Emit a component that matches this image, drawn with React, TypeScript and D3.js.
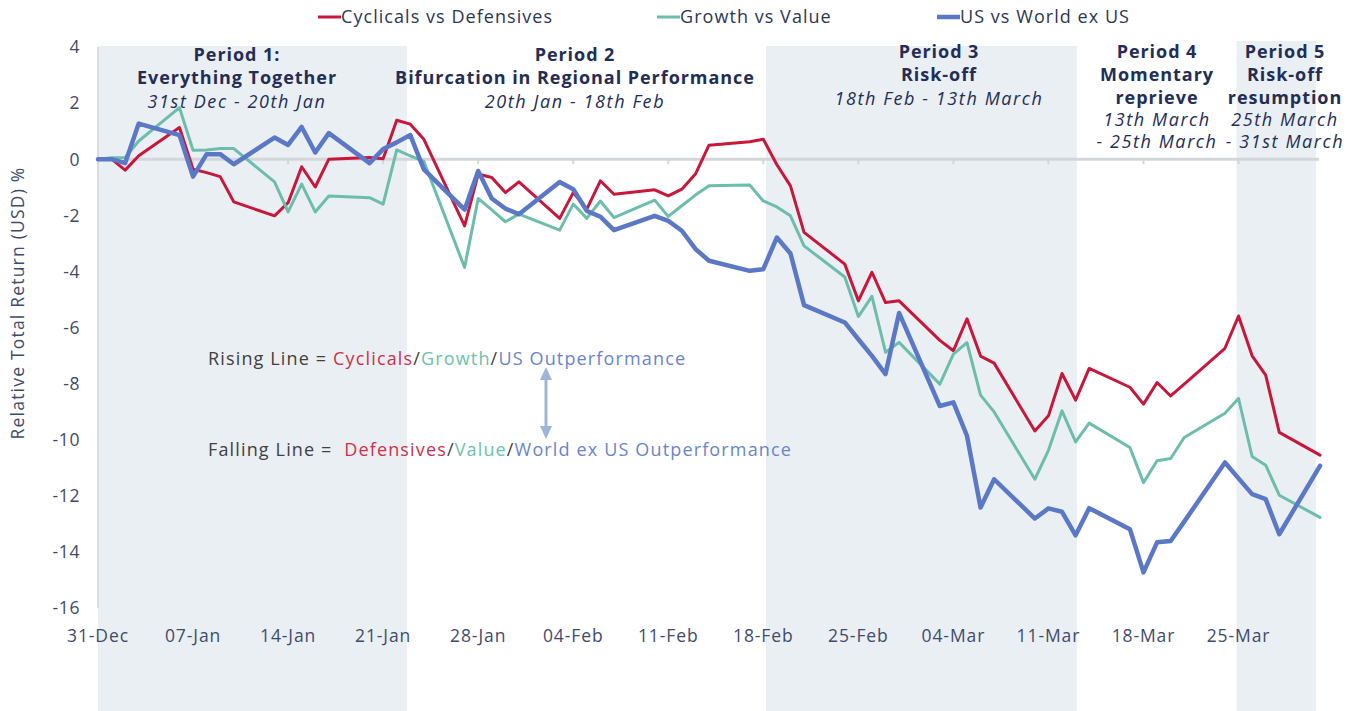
import React from "react";
import * as d3 from "d3";

const dates = [
  "2019-12-31","2020-01-01","2020-01-02","2020-01-03",
  "2020-01-06","2020-01-07","2020-01-08","2020-01-09","2020-01-10",
  "2020-01-13","2020-01-14","2020-01-15","2020-01-16","2020-01-17",
  "2020-01-20","2020-01-21","2020-01-22","2020-01-23","2020-01-24",
  "2020-01-27","2020-01-28","2020-01-29","2020-01-30","2020-01-31",
  "2020-02-03","2020-02-04","2020-02-05","2020-02-06","2020-02-07",
  "2020-02-10","2020-02-11","2020-02-12","2020-02-13","2020-02-14",
  "2020-02-17","2020-02-18","2020-02-19","2020-02-20","2020-02-21",
  "2020-02-24","2020-02-25","2020-02-26","2020-02-27","2020-02-28",
  "2020-03-02","2020-03-03","2020-03-04","2020-03-05","2020-03-06",
  "2020-03-09","2020-03-10","2020-03-11","2020-03-12","2020-03-13",
  "2020-03-16","2020-03-17","2020-03-18","2020-03-19","2020-03-20",
  "2020-03-23","2020-03-24","2020-03-25","2020-03-26","2020-03-27",
  "2020-03-30",
];

const cyclicalsVsDefensives = [
  0, 0, -0.39, 0.12,
  1.13, -0.36, -0.48, -0.62, -1.52,
  -2.02, -1.55, -0.27, -0.99, 0.0,
  0.06, 0.02, 1.39, 1.25, 0.71,
  -2.38, -0.53, -0.65, -1.19, -0.81,
  -2.11, -1.19, -1.78, -0.77, -1.25,
  -1.09, -1.31, -1.07, -0.53, 0.5,
  0.62, 0.71, -0.2, -0.95, -2.61,
  -3.74, -5.05, -4.03, -5.11, -5.05,
  -6.46, -6.83, -5.69, -7.02, -7.27,
  -9.69, -9.15, -7.64, -8.59, -7.46,
  -8.13, -8.73, -7.96, -8.44, -8.02,
  -6.74, -5.59, -7.01, -7.7, -9.74,
  -10.55,
];

const growthVsValue = [
  0, 0.05, 0.06, 0.65,
  1.84, 0.32, 0.33, 0.38, 0.38,
  -0.81, -1.88, -0.89, -1.88, -1.31,
  -1.37, -1.6, 0.33, 0.12, -0.08,
  -3.86, -1.4, -1.81, -2.23, -1.96,
  -2.53, -1.6, -2.11, -1.49, -2.08,
  -1.46, -2.04, -1.66, -1.28, -0.95,
  -0.92, -1.49, -1.7, -2.02, -3.09,
  -4.2, -5.61, -4.89, -6.88, -6.53,
  -8.02, -6.95, -6.54, -8.41, -9.01,
  -11.41, -10.38, -8.97, -10.08, -9.41,
  -10.28, -11.53, -10.75, -10.67, -9.92,
  -9.06, -8.53, -10.6, -10.91, -11.98,
  -12.77,
];

const usVsWorldExUs = [
  0, 0, -0.14, 1.27,
  0.86, -0.62, 0.18, 0.18, -0.18,
  0.77, 0.51, 1.15, 0.24, 0.93,
  -0.14, 0.36, 0.6, 0.86, -0.36,
  -1.8, -0.42, -1.4, -1.76, -1.96,
  -0.81, -1.07, -1.84, -2.05, -2.53,
  -2.02, -2.2, -2.55, -3.2, -3.62,
  -3.98, -3.92, -2.79, -3.36, -5.2,
  -5.82, -6.42, -7.01, -7.66, -5.48,
  -8.8, -8.67, -9.86, -12.42, -11.41,
  -12.81, -12.45, -12.57, -13.41, -12.44,
  -13.19, -14.73, -13.66, -13.61, -12.92,
  -10.81, -11.38, -11.94, -12.12, -13.37,
  -10.93,
];

const seriesNames = ["Cyclicals vs Defensives", "Growth vs Value", "US vs World ex US"];
const seriesColors = ["#c8173a", "#6dbdac", "#5b78c6"];
const seriesWidths = [3, 3, 4.5];

const xTickLabels = ["31-Dec","07-Jan","14-Jan","21-Jan","28-Jan","04-Feb","11-Feb","18-Feb","25-Feb","04-Mar","11-Mar","18-Mar","25-Mar"];
const yTicks = [4, 2, 0, -2, -4, -6, -8, -10, -12, -14, -16];

// shaded periods in days from 31-Dec
const bandStarts = [0, 49.2, 83.85];
const bandEnds = [22.75, 72.1, 89.7];

const BASE = Date.UTC(2019, 11, 31);
const dayOf = (s: string) => {
  const [y, m, d] = s.split("-").map(Number);
  return (Date.UTC(y, m - 1, d) - BASE) / 86400000;
};

const NAVY = "#232d55";
const AXIS_TXT = "#3f4b6c";
const FONT = "'Open Sans', 'Noto Sans', sans-serif";

export default function App() {
  const width = 1354;
  const height = 711;
  const x = d3.scaleLinear().domain([0, 90]).range([98, 1320]);
  const y = d3.scaleLinear().domain([-16, 4]).range([608, 47]);

  const allSeries = [cyclicalsVsDefensives, growthVsValue, usVsWorldExUs];
  const line = d3
    .line<[number, number]>()
    .x((p) => x(p[0]))
    .y((p) => y(p[1]));

  const legendX = [318, 657, 937];

  const periods = [
    { cx: 237, top: 61, bold: ["Period 1:", "Everything Together"], ital: ["31st Dec - 20th Jan"] },
    { cx: 575, top: 61, bold: ["Period 2", "Bifurcation in Regional Performance"], ital: ["20th Jan - 18th Feb"] },
    { cx: 939, top: 58, bold: ["Period 3", "Risk-off"], ital: ["18th Feb - 13th March"] },
    { cx: 1157, top: 58, bold: ["Period 4", "Momentary", "reprieve"], ital: ["13th March", "- 25th March"] },
    { cx: 1285, top: 58, bold: ["Period 5", "Risk-off", "resumption"], ital: ["25th March", "- 31st March"] },
  ];

  return (
    <svg
      width={width}
      height={height}
      style={{ position: "absolute", left: 0, top: 0, background: "#fff" }}
      fontFamily={FONT}
    >
      {/* bands */}
      {bandStarts.map((s, i) => (
        <rect
          key={"b" + i}
          x={x(s)}
          y={i === 2 ? 41 : 46}
          width={x(bandEnds[i]) - x(s)}
          height={height - (i === 2 ? 41 : 46)}
          fill="#eaeff4"
        />
      ))}

      {/* y axis line */}
      <line x1={x(0)} x2={x(0)} y1={y(4)} y2={y(-16)} stroke="#d2d6dc" strokeWidth={1.5} />
      {/* zero line */}
      <line x1={x(0)} x2={1319} y1={y(0)} y2={y(0)} stroke="#d3d6db" strokeWidth={3} />
      {xTickLabels.map((_, i) => (
        <line key={"t" + i} x1={x(i * 7)} x2={x(i * 7)} y1={y(0)} y2={y(0) + 5} stroke="#d3d6db" strokeWidth={2} />
      ))}

      {/* y tick labels */}
      {yTicks.map((t) => (
        <text key={"y" + t} x={80} y={y(t)} dy="0.36em" textAnchor="end" fontSize={17.5} letterSpacing={0.6} fill={AXIS_TXT}>
          {t}
        </text>
      ))}
      {/* x tick labels */}
      {xTickLabels.map((l, i) => (
        <text key={"x" + i} x={x(i * 7)} y={642} textAnchor="middle" fontSize={17.5} letterSpacing={0.9} fill={AXIS_TXT}>
          {l}
        </text>
      ))}

      {/* y axis title */}
      <text
        transform={`translate(24,303) rotate(-90)`}
        textAnchor="middle"
        fontSize={17.5}
        letterSpacing={1.2}
        fill={AXIS_TXT}
      >
        Relative Total Return (USD) %
      </text>

      {/* period labels */}
      {periods.map((p, i) => (
        <g key={"p" + i}>
          {p.bold.map((t, j) => (
            <text key={"pb" + j} x={p.cx} y={p.top + j * 23} textAnchor="middle" fontSize={18} fontWeight={700} letterSpacing={0.95} fill={NAVY}>
              {t}
            </text>
          ))}
          {p.ital.map((t, j) => (
            <text
              key={"pi" + j}
              x={p.cx}
              y={p.top + p.bold.length * 23 - (p.bold.length > 2 ? 1.5 : -0.5) + j * 22}
              textAnchor="middle"
              fontSize={18}
              fontStyle="italic"
              letterSpacing={1.6}
              fill={NAVY}
            >
              {t}
            </text>
          ))}
        </g>
      ))}

      {/* series lines */}
      {allSeries.map((vals, i) => (
        <path
          key={"s" + i}
          d={line(vals.map((v, k) => [dayOf(dates[k]), v]) as [number, number][]) || ""}
          fill="none"
          stroke={seriesColors[i]}
          strokeWidth={seriesWidths[i]}
          strokeLinejoin="round"
          strokeLinecap="round"
        />
      ))}

      {/* legend */}
      {seriesNames.map((n, i) => (
        <g key={"l" + i}>
          <line x1={legendX[i]} x2={legendX[i] + 23} y1={17} y2={17} stroke={seriesColors[i]} strokeWidth={i === 2 ? 4.5 : 3} />
          <text x={legendX[i] + 23} y={23} fontSize={18} letterSpacing={1.05} fill="#2c3656">
            {n}
          </text>
        </g>
      ))}

      {/* annotation */}
      <text x={208} y={365} fontSize={18} letterSpacing={1.15} fill="#404040" style={{ whiteSpace: "pre" }}>
        <tspan>{"Rising Line = "}</tspan>
        <tspan fill="#cf3049">Cyclicals</tspan>
        <tspan>/</tspan>
        <tspan fill="#6cc2ad">Growth</tspan>
        <tspan>/</tspan>
        <tspan fill="#6a84cc">US Outperformance</tspan>
      </text>
      <text x={208} y={456} fontSize={18} letterSpacing={1.15} fill="#404040" style={{ whiteSpace: "pre" }}>
        <tspan>{"Falling Line =  "}</tspan>
        <tspan fill="#cf3049">Defensives</tspan>
        <tspan>/</tspan>
        <tspan fill="#6cc2ad">Value</tspan>
        <tspan>/</tspan>
        <tspan fill="#6a84cc">World ex US Outperformance</tspan>
      </text>

      {/* double arrow */}
      <line x1={546} x2={546} y1={378} y2={428} stroke="#9db5d6" strokeWidth={3} />
      <path d="M546,367 L540,380 L552,380 Z" fill="#9db5d6" />
      <path d="M546,439 L540,426 L552,426 Z" fill="#9db5d6" />
    </svg>
  );
}
